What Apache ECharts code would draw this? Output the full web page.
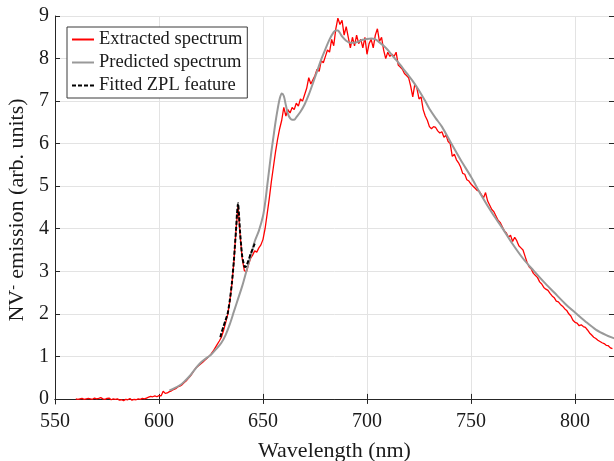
<!DOCTYPE html>
<html>
<head>
<meta charset="utf-8">
<script src="https://cdn.jsdelivr.net/npm/echarts@6/dist/echarts.min.js"></script>
<style>html,body{margin:0;padding:0;background:#fff}#c{width:614px;height:461px}</style>
</head>
<body>
<div id="c"></div>
<script>
// Extracted spectrum: sampled every 1 nm starting at 560 nm
const redStart = 560;
const redValues = [
 0.00,-0.01,0.00,0.01,-0.01,0.00,0.01,0.00,-0.01,0.02,
 0.00,0.01,0.03,0.00,-0.01,0.01,0.02,-0.02,0.00,-0.01,
 0.00,-0.03,-0.02,-0.04,-0.01,-0.02,0.01,-0.03,-0.01,-0.02,
 0.00,-0.01,0.01,0.00,0.02,0.04,0.06,0.05,0.07,0.05,
 0.08,0.07,0.18,0.13,0.14,0.17,0.19,0.22,0.24,0.28,
 0.30,0.33,0.38,0.42,0.48,0.53,0.60,0.68,0.74,0.78,
 0.82,0.86,0.91,0.95,1.00,1.05,1.12,1.20,1.28,1.36,
 1.45,1.60,1.78,1.98,2.28,2.68,3.22,3.95,4.55,3.85,
 3.30,3.02,2.98,3.15,3.30,3.38,3.48,3.45,3.55,3.62,
 3.75,4.00,4.35,4.70,5.10,5.45,5.80,6.10,6.35,6.55,
 6.85,6.65,6.80,6.72,6.85,6.80,6.95,6.88,7.05,7.00,
 7.15,7.30,7.55,7.40,7.50,7.60,7.75,7.70,7.95,7.90,
 8.05,8.20,8.15,8.45,8.30,8.70,8.95,8.80,8.90,8.55,
 8.75,8.50,8.25,8.50,8.30,8.55,8.35,8.45,8.25,8.50,
 8.10,8.35,8.45,8.25,8.55,8.70,8.40,8.50,8.20,8.00,
 8.15,8.05,8.10,8.05,8.15,7.85,7.80,7.75,7.65,7.60,
 7.55,7.35,7.10,7.40,7.30,7.05,7.10,6.80,6.65,6.55,
 6.40,6.35,6.40,6.38,6.30,6.25,6.28,6.15,6.20,6.05,
 6.00,5.70,5.75,5.62,5.55,5.45,5.30,5.28,5.15,5.12,
 5.05,5.00,4.95,4.90,4.88,4.80,4.72,4.85,4.65,4.55,
 4.45,4.40,4.30,4.20,4.15,4.05,3.95,3.90,3.80,3.85,
 3.70,3.80,3.72,3.60,3.55,3.50,3.35,3.20,3.10,3.05,
 2.95,2.90,2.85,2.75,2.70,2.62,2.58,2.55,2.48,2.42,
 2.38,2.30,2.28,2.22,2.18,2.12,2.08,2.00,1.95,1.85,
 1.80,1.78,1.72,1.74,1.70,1.68,1.62,1.55,1.50,1.45,
 1.42,1.38,1.35,1.32,1.30,1.26,1.25,1.20,1.18
];
// Predicted spectrum
const grayX = [605,607,610,612,615,618,620,622,625,628,630,632,634,636,638,640,642,644,646,648,650,651,652,653,654,655,656,657,658,659,660,661,662,663,664,665,666,668,670,672,674,676,678,680,682,684,685,686,687,688,690,692,694,696,698,700,702,704,706,708,710,712,714,716,718,720,722,725,728,730,733,736,740,745,750,755,760,765,770,775,780,785,790,795,800,805,810,815,819];
const grayY = [0.20,0.24,0.32,0.40,0.55,0.74,0.85,0.93,1.04,1.20,1.32,1.50,1.75,2.05,2.35,2.65,3.00,3.35,3.70,3.95,4.30,4.60,5.00,5.40,5.80,6.15,6.50,6.80,7.05,7.18,7.12,6.90,6.70,6.60,6.56,6.56,6.62,6.75,6.92,7.15,7.42,7.70,7.98,8.22,8.45,8.62,8.66,8.66,8.60,8.52,8.42,8.37,8.37,8.40,8.44,8.46,8.47,8.45,8.38,8.30,8.20,8.08,7.97,7.85,7.72,7.60,7.47,7.25,7.00,6.82,6.60,6.40,6.05,5.62,5.22,4.78,4.38,4.02,3.64,3.30,3.02,2.75,2.50,2.25,2.03,1.82,1.63,1.50,1.42];
// Fitted ZPL feature
const zplX = [629.5,630,631,632,633,634,635,636,636.5,637,637.5,638,638.5,639,639.5,640,641,641.5,642,643,644,645,646];
const zplY = [1.45,1.55,1.70,1.85,2.00,2.30,2.70,3.25,3.60,3.95,4.35,4.60,4.30,3.90,3.60,3.35,3.12,3.10,3.13,3.25,3.40,3.52,3.65];
const xTicks = [550,600,650,700,750,800];
const yTicks = [0,1,2,3,4,5,6,7,8,9];

const redData = redValues.map((v, i) => [redStart + i, v]);
const grayData = grayX.map((x, i) => [x, grayY[i]]);
const zplData = zplX.map((x, i) => [x, zplY[i]]);

const FONT = '"Liberation Serif","Times New Roman",serif';
const axisColor = '#262626';
const textColor = '#1a1a1a';
const chart = echarts.init(document.getElementById('c'), null, {renderer: 'canvas'});
const baseX = {
  type: 'value', min: 550, max: 818.75, interval: 50,
  axisLine: {show: true, lineStyle: {color: axisColor, width: 1}},
  axisTick: {show: true, inside: true, length: 5, lineStyle: {color: axisColor}, customValues: xTicks},
};
const baseY = {
  type: 'value', min: -0.12, max: 9,
  axisLine: {show: true, lineStyle: {color: axisColor, width: 1}},
  axisTick: {show: true, inside: true, length: 5, lineStyle: {color: axisColor}, customValues: yTicks},
};
chart.setOption({
  animation: false,
  backgroundColor: '#fff',
  grid: {left: 55, right: 0, top: 16, bottom: 57, containLabel: false, outerBoundsMode: 'none'},
  legend: {
    orient: 'vertical', left: 67, top: 27,
    itemWidth: 22, itemHeight: 10, itemGap: 4, itemTextGap: 3,
    padding: [3, 5, 3, 4],
    backgroundColor: '#fff', borderColor: '#3a3a3a', borderWidth: 1,
    itemStyle: {opacity: 0},
    textStyle: {fontFamily: FONT, fontSize: 18.5, color: textColor},
    data: ['Extracted spectrum', 'Predicted spectrum', 'Fitted ZPL feature']
  },
  xAxis: [
    Object.assign({}, baseX, {
      position: 'bottom',
      name: 'Wavelength (nm)', nameLocation: 'middle', nameGap: 36,
      nameTextStyle: {fontFamily: FONT, fontSize: 22, color: textColor},
      axisLabel: {show: true, margin: 8, fontFamily: FONT, fontSize: 20, color: textColor, customValues: xTicks},
      splitLine: {show: true, lineStyle: {color: '#e3e3e3', width: 1}}
    }),
    Object.assign({}, baseX, {
      position: 'top', axisLabel: {show: false}, splitLine: {show: false}
    })
  ],
  yAxis: [
    Object.assign({}, baseY, {
      position: 'left',
      name: '{a|NV}{b|-}{a| emission (arb. units)}', nameLocation: 'middle', nameGap: 18, nameRotate: 90,
      nameTextStyle: {fontFamily: FONT, fontSize: 22, color: textColor,
        rich: {a: {fontFamily: FONT, fontSize: 22, color: textColor},
               b: {fontFamily: FONT, fontSize: 14, color: textColor, verticalAlign: 'top', padding: [0, 1, 0, 0]}}},
      axisLabel: {show: true, margin: 6, fontFamily: FONT, fontSize: 20, color: textColor, customValues: yTicks},
      splitLine: {show: true, lineStyle: {color: '#e3e3e3', width: 1}}
    }),
    Object.assign({}, baseY, {
      position: 'right', axisLabel: {show: false}, splitLine: {show: false}
    })
  ],
  series: [
    {name: 'Extracted spectrum', type: 'line', data: redData, showSymbol: false, symbol: 'none',
     lineStyle: {color: '#ff0000', width: 1.3}, itemStyle: {color: '#ff0000'}, z: 2},
    {name: 'Predicted spectrum', type: 'line', data: grayData, showSymbol: false, symbol: 'none', smooth: 0.3,
     lineStyle: {color: '#999999', width: 2}, itemStyle: {color: '#999999'}, z: 3},
    {name: 'Fitted ZPL feature', type: 'line', data: zplData, showSymbol: false, symbol: 'none', smooth: 0.2,
     lineStyle: {color: '#000000', width: 2, type: [4, 2]}, itemStyle: {color: '#000000'}, z: 4}
  ]
});
</script>
</body>
</html>
